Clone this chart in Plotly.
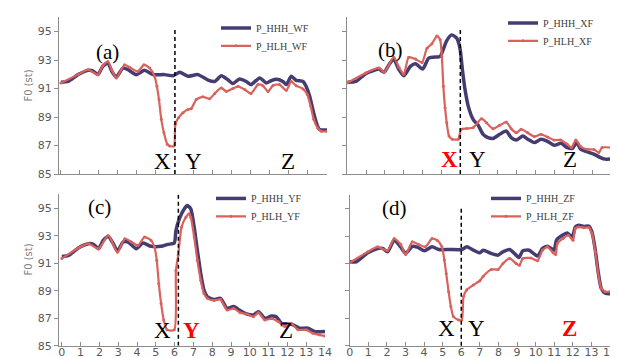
import plotly.graph_objects as go

# ---------------- data ----------------
# Panel (a)  WF
a_hhh_x = [0, 0.37, 0.9, 1.42, 1.68, 1.95, 2.2, 2.47, 2.68, 2.91, 3.26, 3.53, 3.96, 4.4, 4.84, 5.46, 5.9, 6.25, 6.68,
           7.2, 7.74, 8.09, 8.44, 8.8, 9.05, 9.4, 9.75, 10.0, 10.46, 10.8, 11.06, 11.33, 11.68, 11.86, 12.12, 12.38,
           12.74, 12.9, 13.09, 13.26, 13.44, 13.6, 14.0]
a_hhh_y = [91.44, 91.5, 91.98, 92.28, 92.25, 91.98, 92.56, 92.8, 92.2, 91.8, 92.44, 92.33, 91.98, 92.28, 91.98, 91.98,
           91.9, 92.14, 91.86, 91.98, 91.6, 91.5, 91.9, 91.6, 91.35, 91.68, 91.5, 91.28, 91.75, 91.4, 91.55, 91.65,
           91.5, 91.28, 91.86, 91.58, 91.5, 91.16, 90.46, 89.5, 88.6, 88.14, 88.1]
a_hlh_x = [0, 0.9, 1.42, 1.95, 2.2, 2.47, 2.68, 2.91, 3.35, 3.61, 4.05, 4.37, 4.67, 4.93, 5.05, 5.16, 5.28, 5.42, 5.6,
           5.72, 5.95, 6.02, 6.19, 6.42, 6.68, 6.86, 7.12, 7.47, 7.82, 8.09, 8.44, 8.7, 9.05, 9.32, 9.67, 10.0, 10.37,
           10.63, 10.9, 11.16, 11.5, 11.86, 12.12, 12.38, 12.74, 12.96, 13.14, 13.3, 13.5, 13.7, 14.0]
a_hlh_y = [91.4, 91.98, 92.33, 91.98, 92.6, 92.9, 92.3, 91.75, 92.67, 92.5, 92.2, 92.67, 92.44, 91.86, 91.16, 90.23,
           88.84, 87.9, 87.09, 86.97, 86.97, 88.49, 88.96, 89.3, 89.53, 89.6, 90.23, 90.42, 90.28, 90.65, 91.05, 90.8,
           91.0, 91.16, 90.93, 90.65, 91.28, 91.2, 90.8, 91.22, 91.28, 90.88, 91.5, 91.2, 90.98, 90.58, 89.77, 88.84,
           88.26, 88.0, 88.0]

# Panel (b)  XF
b_hhh_x = [0, 0.46, 0.98, 1.42, 1.68, 1.95, 2.21, 2.47, 2.74, 3.0, 3.35, 3.62, 4.0, 4.32, 4.58, 4.93, 5.1, 5.28, 5.55,
           5.81, 5.98, 6.11, 6.25, 6.42, 6.68, 6.95, 7.21, 7.47, 7.74, 8.09, 8.44, 8.7, 8.97, 9.32, 9.58, 9.93, 10.28,
           10.63, 10.98, 11.34, 11.68, 11.95, 12.18, 12.39, 12.74, 13.09, 13.44, 13.7, 14.0]
b_hhh_y = [91.44, 91.5, 92.05, 92.28, 92.37, 92.14, 92.67, 93.07, 92.33, 91.9, 92.56, 92.75, 92.37, 93.14, 93.2, 93.26,
           93.77, 94.37, 94.77, 94.54, 93.84, 92.33, 90.93, 89.77, 88.84, 88.42, 87.79, 87.56, 87.5, 87.79, 88.02,
           87.56, 87.39, 87.67, 87.45, 87.21, 87.44, 87.3, 87.02, 87.16, 86.86, 86.8, 87.25, 86.74, 86.56, 86.4,
           86.16, 86.05, 86.07]
b_hlh_x = [0, 0.98, 1.68, 1.95, 2.47, 2.74, 3.0, 3.26, 3.62, 3.97, 4.23, 4.49, 4.76, 4.93, 5.02, 5.1, 5.19, 5.28, 5.4,
           5.58, 5.89, 6.04, 6.34, 6.68, 7.13, 7.39, 7.74, 8.09, 8.44, 8.7, 8.97, 9.23, 9.58, 9.93, 10.28, 10.63, 10.98,
           11.34, 11.68, 11.9, 12.13, 12.39, 12.74, 13.09, 13.35, 13.53, 14.0]
b_hlh_y = [91.4, 92.1, 92.45, 92.14, 93.2, 92.5, 92.0, 93.2, 93.07, 92.84, 93.84, 94.14, 94.7, 94.42, 93.26, 91.16,
           89.65, 88.6, 87.67, 87.44, 87.44, 88.14, 88.2, 88.26, 88.89, 88.6, 88.19, 88.42, 88.65, 88.19, 87.9, 88.14,
           87.9, 87.63, 87.79, 87.6, 87.39, 87.39, 87.09, 86.86, 87.39, 86.93, 86.74, 86.72, 86.51, 86.86, 86.86]

# Panel (c)  YF
c_hhh_x = [0, 0.37, 0.9, 1.42, 1.68, 1.95, 2.2, 2.47, 2.74, 2.96, 3.26, 3.53, 3.96, 4.32, 4.75, 5.28, 5.63, 5.98, 6.07,
           6.25, 6.51, 6.68, 6.86, 7.04, 7.21, 7.39, 7.56, 7.74, 8.09, 8.44, 8.79, 9.14, 9.49, 9.84, 10.19, 10.46, 10.8,
           11.16, 11.42, 11.68, 11.95, 12.3, 12.65, 13.09, 13.44, 14.0]
c_hhh_y = [91.5, 91.58, 92.13, 92.42, 92.38, 92.06, 92.66, 92.95, 92.42, 91.89, 92.54, 92.54, 92.06, 92.47, 92.23,
           92.23, 92.37, 92.47, 93.38, 94.23, 94.95, 95.19, 94.95, 93.63, 91.94, 90.25, 89.05, 88.57, 88.37, 88.45,
           87.72, 87.85, 87.56, 87.31, 87.24, 87.48, 87.0, 87.17, 87.1, 86.64, 86.6, 86.52, 86.28, 86.28, 86.04, 86.04]
c_hlh_x = [0, 0.9, 1.42, 1.95, 2.47, 2.96, 3.35, 3.7, 4.05, 4.4, 4.75, 4.93, 5.05, 5.16, 5.28, 5.42, 5.6, 5.98, 6.07,
           6.19, 6.37, 6.6, 6.77, 6.86, 7.04, 7.21, 7.39, 7.56, 7.74, 8.09, 8.44, 8.79, 9.14, 9.49, 9.84, 10.19, 10.46,
           10.8, 11.16, 11.51, 11.86, 12.21, 12.56, 13.0, 13.35, 13.7, 14.0]
c_hlh_y = [91.34, 92.13, 92.42, 92.06, 93.02, 91.8, 92.78, 92.55, 92.3, 92.9, 92.66, 92.18, 91.21, 89.53, 88.08,
           86.88, 86.16, 86.16, 90.5, 91.58, 93.63, 94.35, 94.59, 94.35, 92.9, 91.21, 89.77, 88.81, 88.45, 88.3, 88.38,
           87.6, 87.72, 87.41, 87.31, 87.12, 87.41, 86.88, 86.98, 86.76, 86.4, 86.64, 86.16, 86.16, 85.92, 85.8, 85.72]

# Panel (d)  ZF
d_hhh_x = [0, 0.35, 0.97, 1.5, 1.77, 2.04, 2.39, 2.74, 3.01, 3.37, 3.63, 4.02, 4.43, 4.79, 5.4, 6.03, 6.29, 6.65, 7.0,
           7.18, 7.62, 7.98, 8.24, 8.6, 8.95, 9.1, 9.31, 9.66, 10.1, 10.37, 10.64, 10.99, 11.12, 11.44, 11.7, 11.97,
           12.14, 12.32, 12.59, 12.85, 13.03, 13.21, 13.35, 13.53, 13.74, 14.0]
d_hhh_y = [91.13, 91.13, 91.78, 92.1, 92.1, 91.85, 92.7, 92.22, 91.73, 92.26, 92.2, 91.93, 92.22, 92.02, 92.02, 92.02,
           92.22, 91.98, 91.78, 91.97, 91.73, 91.61, 91.85, 92.02, 91.61, 91.44, 91.93, 91.97, 91.54, 92.1, 92.26,
           91.97, 92.7, 93.06, 93.23, 92.94, 93.67, 93.79, 93.7, 93.73, 93.3, 91.97, 90.52, 89.19, 88.83, 88.8]
d_hlh_x = [0, 0.97, 1.5, 2.04, 2.39, 2.74, 3.01, 3.37, 3.72, 4.07, 4.43, 4.7, 4.96, 5.09, 5.19, 5.32, 5.44, 5.58,
           5.85, 6.03, 6.12, 6.29, 6.65, 7.0, 7.18, 7.62, 7.98, 8.24, 8.6, 8.95, 9.13, 9.31, 9.75, 10.1, 10.37, 10.64,
           10.94, 11.08, 11.17, 11.47, 11.76, 12.01, 12.14, 12.32, 12.59, 12.85, 13.03, 13.21, 13.35, 13.53, 13.74,
           14.0]
d_hlh_y = [91.06, 91.85, 92.22, 91.95, 92.82, 92.4, 91.65, 92.58, 92.38, 92.22, 92.82, 92.7, 92.22, 91.25, 90.28,
           88.95, 87.86, 87.13, 86.89, 86.89, 88.59, 89.07, 89.43, 89.75, 90.08, 90.57, 90.57, 91.0, 91.37, 91.0,
           90.88, 91.37, 91.4, 91.2, 91.97, 92.22, 91.78, 91.66, 92.46, 92.82, 93.06, 92.7, 93.55, 93.67, 93.6, 93.63,
           93.2, 91.85, 90.4, 89.2, 88.95, 88.95]

panel_tags = ["(a)", "(b)", "(c)", "(d)"]
suffixes = ["WF", "XF", "YF", "ZF"]
marker_letters = ["X", "Y", "Z"]
focus_letter = [None, "X", "Y", "Z"]
boundary_x = [6.0, 6.0, 6.2, 6.0]
y_ticks = [85, 87, 89, 91, 93, 95]
x_ticks = list(range(0, 15))

# ---------------- styling / layout ----------------
W, H = 618, 358
HHH_COLOR = "#463c72"
HLH_COLOR = "#d9625d"
AXIS_COLOR = "#8c8c8c"
TICK_COLOR = "#595959"
SERIF = "Liberation Serif, Times New Roman, serif"
SANS = "DejaVu Sans, Verdana, sans-serif"

# pixel geometry of the four plot areas (left, right, top, bottom)
boxes = [(51, 319, 7.4, 165.0), (339.3, 603, 7.4, 165.0),
         (51, 317, 185.5, 337.7), (341.7, 602, 186.0, 337.7)]
x_ranges = [[-0.1, 14], [0, 14], [-0.15, 14], [0, 14]]

series = [
    (a_hhh_x, a_hhh_y, a_hlh_x, a_hlh_y),
    (b_hhh_x, b_hhh_y, b_hlh_x, b_hlh_y),
    (c_hhh_x, c_hhh_y, c_hlh_x, c_hlh_y),
    (d_hhh_x, d_hhh_y, d_hlh_x, d_hlh_y),
]

fig = go.Figure()
layout = dict(width=W, height=H, margin=dict(l=0, r=0, t=0, b=0, pad=0),
              paper_bgcolor="white", plot_bgcolor="white", template="none",
              showlegend=True, annotations=[], shapes=[])

# legend text start (px) and first row y (px) for each panel
legend_pos = [(250, 18), (537, 13), (245, 189.5), (520, 189.5)]

for i in range(4):
    xs = "" if i == 0 else str(i + 1)
    xa, ya = "x" + xs, "y" + xs
    l, r, t, b = boxes[i]
    bottom_row = i >= 2
    left_col = i % 2 == 0
    layout["xaxis" + xs] = dict(
        domain=[l / W, r / W], range=x_ranges[i], anchor=ya, showgrid=False, zeroline=False,
        showline=True, linecolor=AXIS_COLOR, linewidth=1, ticks="inside", ticklen=4, tickcolor=AXIS_COLOR,
        tickvals=x_ticks, showticklabels=bottom_row, automargin=False, ticklabelstandoff=-4,
        tickfont=dict(family=SANS, size=11, color=TICK_COLOR))
    layout["yaxis" + xs] = dict(
        domain=[1 - b / H, 1 - t / H], range=[85, 96], anchor=xa, showgrid=False, zeroline=False,
        showline=True, linecolor=AXIS_COLOR, linewidth=1, ticks="outside", ticklen=4, tickcolor=AXIS_COLOR,
        tickvals=y_ticks, showticklabels=left_col, automargin=False,
        tickfont=dict(family=SANS, size=11, color=TICK_COLOR))

    hx, hy, lx, ly = series[i]
    leg1 = "legend" if i == 0 else "legend" + str(2 * i + 1)
    leg2 = "legend" + str(2 * i + 2)
    fig.add_trace(go.Scatter(x=hx, y=hy, mode="lines", name="P_HHH_" + suffixes[i],
                             line=dict(color=HHH_COLOR, width=3.5, shape="spline", smoothing=0.6),
                             xaxis=xa, yaxis=ya, legend=leg1))
    fig.add_trace(go.Scatter(x=lx, y=ly, mode="lines+markers", name="P_HLH_" + suffixes[i],
                             line=dict(color=HLH_COLOR, width=2.2, shape="spline", smoothing=0.6),
                             marker=dict(color=HLH_COLOR, size=3),
                             xaxis=xa, yaxis=ya, legend=leg2))

    tx, ty = legend_pos[i]
    for k, lg in enumerate([leg1, leg2]):
        layout[lg] = dict(x=(tx - 42) / W, y=1 - (ty + 18 * k) / H, xanchor="left", yanchor="middle",
                          bgcolor="rgba(0,0,0,0)", borderwidth=0,
                          font=dict(family=SERIF, size=10, color="#404040"))

    # dashed boundary
    layout["shapes"].append(dict(type="line", xref=xa, yref=ya, x0=boundary_x[i], x1=boundary_x[i],
                                 y0=85, y1=95.2 if i != 2 else 96.2,
                                 line=dict(color="black", width=1.5, dash="4px,3px")))

# panel tags
tag_pos = [(2.47, 93.58), (2.3, 93.72), (2.02, 95.1), (2.41, 95.07)]
for i in range(4):
    xs = "" if i == 0 else str(i + 1)
    layout["annotations"].append(dict(text=panel_tags[i], x=tag_pos[i][0], y=tag_pos[i][1],
                                      xref="x" + xs, yref="y" + xs, showarrow=False,
                                      font=dict(family=SERIF, size=21, color="black")))

# X / Y / Z labels
letter_x = [[5.37, 6.95, 11.95], [5.4, 6.9, 11.8], [5.37, 6.92, 11.9], [5.23, 6.82, 11.8]]
letter_y = [85.9, 86.0, 86.1, 86.25]
for i in range(4):
    xs = "" if i == 0 else str(i + 1)
    for j, letter in enumerate(marker_letters):
        red = focus_letter[i] == letter
        txt = "<b>" + letter + "</b>" if red else letter
        layout["annotations"].append(dict(text=txt, x=letter_x[i][j], y=letter_y[i],
                                          xref="x" + xs, yref="y" + xs, showarrow=False,
                                          font=dict(family=SERIF, size=23, color="#ff0000" if red else "black")))

# y axis titles
for yc in (76, 251):
    layout["annotations"].append(dict(text="F0 (st)", x=21 / W, y=1 - yc / H, xref="paper", yref="paper",
                                      xanchor="center", yanchor="middle",
                                      showarrow=False, textangle=-90,
                                      font=dict(family=SANS, size=10, color="#7f7f7f")))

fig.update_layout(**layout)
fig.write_html("out.html")
